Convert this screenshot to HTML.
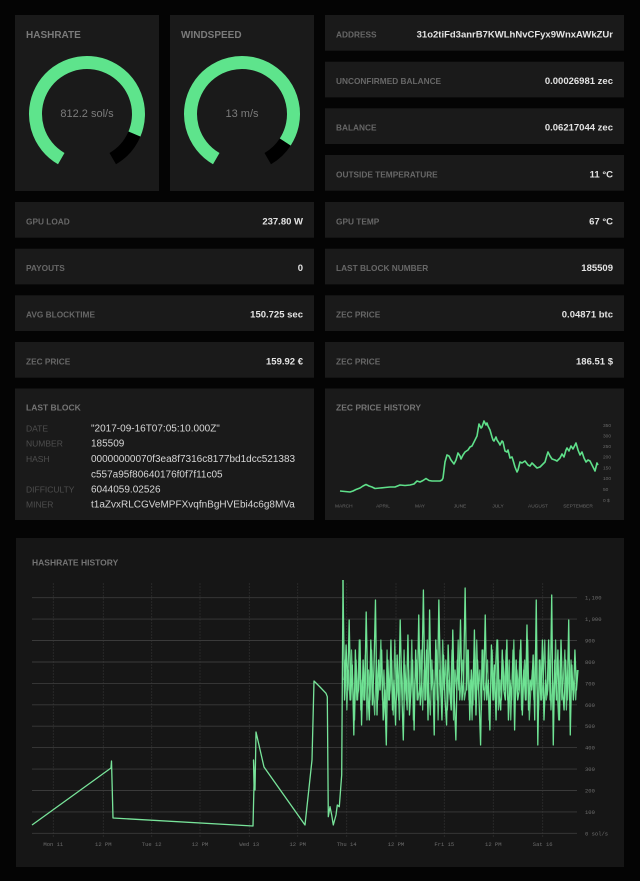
<!DOCTYPE html>
<html><head><meta charset="utf-8"><style>
html,body{margin:0;padding:0;background:#040404;}
svg{display:block;}
.t{font-family:"Liberation Sans",sans-serif;}
.lbl{font-family:"Liberation Sans",sans-serif;font-weight:bold;font-size:8.3px;fill:#676767;}
.val{font-family:"Liberation Sans",sans-serif;font-weight:bold;font-size:9.5px;fill:#e4e4e4;text-anchor:end;}
.ttl{font-family:"Liberation Sans",sans-serif;font-weight:bold;font-size:10px;fill:#7a7a7a;}
.st{font-family:"Liberation Sans",sans-serif;font-weight:bold;font-size:8.5px;fill:#747474;}
.bl{font-family:"Liberation Sans",sans-serif;font-size:8.5px;fill:#4e4e4e;}
.bv{font-family:"Liberation Sans",sans-serif;font-size:10px;fill:#d6d6d6;}
.mono{font-family:"Liberation Mono",monospace;font-size:5.5px;fill:#6e6e6e;}
.tiny{font-family:"Liberation Sans",sans-serif;font-size:4.8px;fill:#6a6a6a;}
</style></head><body>
<svg width="640" height="881" viewBox="0 0 640 881" xmlns="http://www.w3.org/2000/svg">
<rect width="640" height="881" fill="#040404"/>
<!-- top gauges -->
<rect x="15" y="15" width="144" height="176" fill="#1a1a1a"/>
<rect x="170" y="15" width="144" height="176" fill="#1a1a1a"/>
<text class="ttl" x="26" y="38">HASHRATE</text>
<text class="ttl" x="181" y="38">WINDSPEED</text>
<path d="M61.25,158.6 A51.5,51.5 0 1 1 134.4,134.1" fill="none" stroke="#5ee48c" stroke-width="13"/>
<path d="M134.4,134.1 A51.5,51.5 0 0 1 112.75,158.6" fill="none" stroke="#000" stroke-width="13"/>
<text class="t" x="87" y="117" font-size="11" fill="#7c7c7c" text-anchor="middle">812.2 sol/s</text>
<path d="M216.25,158.6 A51.5,51.5 0 1 1 285.2,142.05" fill="none" stroke="#5ee48c" stroke-width="13"/>
<path d="M285.2,142.05 A51.5,51.5 0 0 1 267.75,158.6" fill="none" stroke="#000" stroke-width="13"/>
<text class="t" x="242" y="117" font-size="11" fill="#7c7c7c" text-anchor="middle">13 m/s</text>

<!-- right column top -->
<rect x="325" y="15" width="299" height="35.7" fill="#1a1a1a"/>
<rect x="325" y="61.7" width="299" height="35.7" fill="#1a1a1a"/>
<rect x="325" y="108.3" width="299" height="35.7" fill="#1a1a1a"/>
<rect x="325" y="155" width="299" height="35.7" fill="#1a1a1a"/>
<text class="lbl" x="336" y="37.3">ADDRESS</text>
<text class="val" x="613" y="37.3" font-size="9.2">31o2tiFd3anrB7KWLhNvCFyx9WnxAWkZUr</text>
<text class="lbl" x="336" y="84">UNCONFIRMED BALANCE</text>
<text class="val" x="613" y="84">0.00026981 zec</text>
<text class="lbl" x="336" y="130.6">BALANCE</text>
<text class="val" x="613" y="130.6">0.06217044 zec</text>
<text class="lbl" x="336" y="177.3">OUTSIDE TEMPERATURE</text>
<text class="val" x="613" y="177.3">11 °C</text>

<!-- second block rows -->
<rect x="15" y="202" width="299" height="35.7" fill="#1a1a1a"/>
<rect x="15" y="248.7" width="299" height="35.7" fill="#1a1a1a"/>
<rect x="15" y="295.3" width="299" height="35.7" fill="#1a1a1a"/>
<rect x="15" y="342" width="299" height="35.7" fill="#1a1a1a"/>
<rect x="325" y="202" width="299" height="35.7" fill="#1a1a1a"/>
<rect x="325" y="248.7" width="299" height="35.7" fill="#1a1a1a"/>
<rect x="325" y="295.3" width="299" height="35.7" fill="#1a1a1a"/>
<rect x="325" y="342" width="299" height="35.7" fill="#1a1a1a"/>
<text class="lbl" x="26" y="224.3">GPU LOAD</text>
<text class="val" x="303" y="224.3">237.80 W</text>
<text class="lbl" x="26" y="271">PAYOUTS</text>
<text class="val" x="303" y="271">0</text>
<text class="lbl" x="26" y="317.6">AVG BLOCKTIME</text>
<text class="val" x="303" y="317.6">150.725 sec</text>
<text class="lbl" x="26" y="364.3">ZEC PRICE</text>
<text class="val" x="303" y="364.3">159.92 €</text>
<text class="lbl" x="336" y="224.3">GPU TEMP</text>
<text class="val" x="613" y="224.3">67 °C</text>
<text class="lbl" x="336" y="271">LAST BLOCK NUMBER</text>
<text class="val" x="613" y="271">185509</text>
<text class="lbl" x="336" y="317.6">ZEC PRICE</text>
<text class="val" x="613" y="317.6">0.04871 btc</text>
<text class="lbl" x="336" y="364.3">ZEC PRICE</text>
<text class="val" x="613" y="364.3">186.51 $</text>

<!-- last block -->
<rect x="15" y="388.5" width="299" height="131.5" fill="#1a1a1a"/>
<text class="st" x="26" y="410.5">LAST BLOCK</text>
<text class="bl" x="26" y="431.5">DATE</text>
<text class="bv" x="91" y="431.5">"2017-09-16T07:05:10.000Z"</text>
<text class="bl" x="26" y="446.5">NUMBER</text>
<text class="bv" x="91" y="446.5">185509</text>
<text class="bl" x="26" y="462">HASH</text>
<text class="bv" x="91" y="462">00000000070f3ea8f7316c8177bd1dcc521383</text>
<text class="bv" x="91" y="477.5">c557a95f80640176f0f7f11c05</text>
<text class="bl" x="26" y="492.5">DIFFICULTY</text>
<text class="bv" x="91" y="492.5">6044059.02526</text>
<text class="bl" x="26" y="507.5">MINER</text>
<text class="bv" x="91" y="507.5">t1aZvxRLCGVeMPFXvqfnBgHVEbi4c6g8MVa</text>

<!-- zec price history -->
<rect x="325" y="388.5" width="299" height="131.5" fill="#1a1a1a"/>
<text class="st" x="336" y="410.5">ZEC PRICE HISTORY</text>
<text class="tiny" x="603" y="427">350</text>
<text class="tiny" x="603" y="437.5">300</text>
<text class="tiny" x="603" y="448">250</text>
<text class="tiny" x="603" y="458.7">200</text>
<text class="tiny" x="603" y="469.3">150</text>
<text class="tiny" x="603" y="480">100</text>
<text class="tiny" x="603" y="491">50</text>
<text class="tiny" x="603" y="502">0 $</text>
<text class="tiny" x="335" y="507.5">MARCH</text>
<text class="tiny" x="383" y="507.5" text-anchor="middle">APRIL</text>
<text class="tiny" x="420" y="507.5" text-anchor="middle">MAY</text>
<text class="tiny" x="460" y="507.5" text-anchor="middle">JUNE</text>
<text class="tiny" x="498" y="507.5" text-anchor="middle">JULY</text>
<text class="tiny" x="538" y="507.5" text-anchor="middle">AUGUST</text>
<text class="tiny" x="578" y="507.5" text-anchor="middle">SEPTEMBER</text>
<polyline fill="none" stroke="#5fe08a" stroke-width="1.6" stroke-linejoin="round" points="340,491 345,491.5 350,492 353,491 356,489.5 360,488 363,486 366,484.5 369,486 372,487 375,488.5 380,488 385,487.5 390,487 395,487 400,485 405,485.5 410,485 414,484 417,481 420,482 423,480.5 426,478.5 429,480.5 432,481 436,481 440,481 442,480 443,478 445,462 447,455 449,456 451,460 454,464 456,460 458,453 460,456 461,459 463,455 465,452 468,450 470,447 472,446 475,440 477,436 478,430 479,424 481,428 482,427 484,421 486,425 487,423 488,426 490,430 492,437 493,440 494,441 496,437 497,440 499,443 500,445 502,441 503,442 505,451 507,452 508,450 510,458 512,457 513,460 515,467 517,472 518,470 520,462 522,463 525,461 528,465 530,466 532,463 535,466 537,468 540,467 542,465 545,462 547,455 548,452 550,456 552,459 555,460 557,461 560,458 562,454 564,457 566,450 567,448 569,451 571,446 573,449 576,443 578,450 580,455 582,452 584,458 586,462 588,460 590,461 592,465 594,469 595,471 597,463 598,465"/>

<!-- hashrate history -->
<rect x="16" y="538" width="608" height="329" fill="#161616"/>
<text class="st" x="32" y="565.5">HASHRATE HISTORY</text>
<g stroke="#2c2c2c" stroke-width="0.8" stroke-dasharray="2,1">
<line x1="53.3" y1="583" x2="53.3" y2="838"/>
<line x1="103.3" y1="583" x2="103.3" y2="838"/>
<line x1="151.7" y1="583" x2="151.7" y2="838"/>
<line x1="200" y1="583" x2="200" y2="838"/>
<line x1="249.3" y1="583" x2="249.3" y2="838"/>
<line x1="297.7" y1="583" x2="297.7" y2="838"/>
<line x1="346.7" y1="583" x2="346.7" y2="838"/>
<line x1="396" y1="583" x2="396" y2="838"/>
<line x1="444.3" y1="583" x2="444.3" y2="838"/>
<line x1="493.3" y1="583" x2="493.3" y2="838"/>
<line x1="542.7" y1="583" x2="542.7" y2="838"/>
</g>
<g stroke="#3a3a3a" stroke-width="0.9">
<line x1="32" y1="597.7" x2="577" y2="597.7"/>
<line x1="32" y1="619.1" x2="577" y2="619.1"/>
<line x1="32" y1="640.5" x2="577" y2="640.5"/>
<line x1="32" y1="662" x2="577" y2="662"/>
<line x1="32" y1="683.4" x2="577" y2="683.4"/>
<line x1="32" y1="704.8" x2="577" y2="704.8"/>
<line x1="32" y1="726.2" x2="577" y2="726.2"/>
<line x1="32" y1="747.6" x2="577" y2="747.6"/>
<line x1="32" y1="769.1" x2="577" y2="769.1"/>
<line x1="32" y1="790.5" x2="577" y2="790.5"/>
<line x1="32" y1="811.9" x2="577" y2="811.9"/>
<line x1="32" y1="833.3" x2="577" y2="833.3"/>
</g>
<g class="mono">
<text x="585" y="599.7">1,100</text>
<text x="585" y="621.1">1,000</text>
<text x="585" y="642.5">900</text>
<text x="585" y="664">800</text>
<text x="585" y="685.4">700</text>
<text x="585" y="706.8">600</text>
<text x="585" y="728.2">500</text>
<text x="585" y="749.6">400</text>
<text x="585" y="771.1">300</text>
<text x="585" y="792.5">200</text>
<text x="585" y="813.9">100</text>
<text x="585" y="835.3">0 sol/s</text>
</g>
<g class="mono" text-anchor="middle">
<text x="53.3" y="846">Mon 11</text>
<text x="103.3" y="846">12 PM</text>
<text x="151.7" y="846">Tue 12</text>
<text x="200" y="846">12 PM</text>
<text x="249.3" y="846">Wed 13</text>
<text x="297.7" y="846">12 PM</text>
<text x="346.7" y="846">Thu 14</text>
<text x="396" y="846">12 PM</text>
<text x="444.3" y="846">Fri 15</text>
<text x="493.3" y="846">12 PM</text>
<text x="542.7" y="846">Sat 16</text>
</g>
<polyline fill="none" stroke="#78e49a" stroke-width="1.3" stroke-linejoin="round" points="32,825 111,768 111.5,761 113,818 253,826 254,785 253.5,760 255,790 256,732 264,767 305,825 312,760 314,681 320,687 326,693.3 327.3,696.7 328.3,816.7 330,806.7 331.7,815 333.3,825 336,815 337.3,805 339.3,806.7 341.7,775 343,580"/>
<svg x="343" y="0" width="235" height="881" viewBox="0 0 152 881" preserveAspectRatio="none" overflow="visible">
<polyline fill="none" stroke="#6fe394" stroke-width="1.3" vector-effect="non-scaling-stroke" stroke-linejoin="round" points="0,580 1,700 2,645 3,690 4,620 5,700 6,665 7,735 8,650 9,700 10,690 11,640 12,725 13,660 14,700 15,612 16,690 17,720 18,640 19,705 20,670 21,600 22,715 23,660 24,690 25,650 26,720 27,690 28,745 29,660 30,700 31,640 32,710 33,680 34,725 35,655 36,700 37,620 38,690 39,740 40,665 41,700 42,635 43,715 44,690 45,660 46,730 47,650 48,700 49,615 50,705 51,680 52,590 53,700 54,650 55,720 56,610 57,690 58,670 59,735 60,640 61,700 62,600 63,680 64,720 65,655 66,700 67,725 68,645 69,690 70,710 71,630 72,700 73,740 74,660 75,690 76,620 77,700 78,680 79,588 80,690 81,650 82,720 83,670 84,705 85,630 86,715 87,660 88,700 89,745 90,650 91,690 92,615 93,700 94,680 95,730 96,645 97,700 98,665 99,720 100,640 101,695 102,710 103,650 104,690 105,700 106,640 107,720 108,680 109,700 110,650 111,730 112,660 113,700 114,690 115,640 116,715 117,670 118,700 119,625 120,710 121,680 122,690 123,655 124,720 125,600 126,745 127,660 128,700 129,640 130,720 131,680 132,695 133,640 134,700 135,595 136,745 137,660 138,700 139,650 140,720 141,640 142,690 143,710 144,660 145,700 146,620 147,735 148,665 149,700 150,650 151,690 152,670"/>
<polyline fill="none" stroke="#6fe394" stroke-width="1.2" opacity="0.85" vector-effect="non-scaling-stroke" stroke-linejoin="round" points="0.5,680 1.5,660 2.5,710 3.5,670 4.5,700 5.5,650 6.5,690 7.5,720 8.5,660 9.5,700 10.5,640 11.5,710 12.5,680 13.5,700 14.5,655 15.5,720 16.5,670 17.5,700 18.5,650 19.5,690 20.5,715 21.5,660 22.5,700 23.5,680 24.5,640 25.5,700 26.5,670 27.5,720 28.5,650 29.5,700 30.5,690 31.5,660 32.5,715 33.5,640 34.5,700 35.5,680 36.5,720 37.5,660 38.5,700 39.5,650 40.5,690 41.5,710 42.5,670 43.5,700 44.5,640 45.5,720 46.5,680 47.5,660 48.5,700 49.5,690 50.5,650 51.5,710 52.5,670 53.5,700 54.5,640 55.5,690 56.5,715 57.5,660 58.5,700 59.5,680 60.5,650 61.5,720 62.5,670 63.5,700 64.5,640 65.5,690 66.5,660 67.5,710 68.5,680 69.5,700 70.5,650 71.5,720 72.5,670 73.5,690 74.5,640 75.5,700 76.5,680 77.5,660 78.5,700 79.5,690 80.5,650 81.5,700 82.5,680 83.5,720 84.5,660 85.5,700 86.5,640 87.5,690 88.5,670 89.5,710 90.5,650 91.5,700 92.5,680 93.5,660 94.5,720 95.5,690 96.5,650 97.5,700 98.5,670 99.5,640 100.5,710 101.5,680 102.5,700 103.5,660 104.5,690 105.5,650 106.5,700 107.5,660 108.5,720 109.5,680 110.5,640 111.5,700 112.5,670 113.5,690 114.5,650 115.5,710 116.5,680 117.5,660 118.5,700 119.5,640 120.5,720 121.5,690 122.5,670 123.5,700 124.5,650 125.5,690 126.5,710 127.5,660 128.5,700 129.5,680 130.5,640 131.5,700 132.5,690 133.5,660 134.5,710 135.5,680 136.5,700 137.5,640 138.5,690 139.5,720 140.5,660 141.5,700 142.5,680 143.5,650 144.5,710 145.5,670 146.5,700 147.5,660 148.5,690 149.5,680 150.5,700 151.5,670"/>
</svg>
</svg>
</body></html>
